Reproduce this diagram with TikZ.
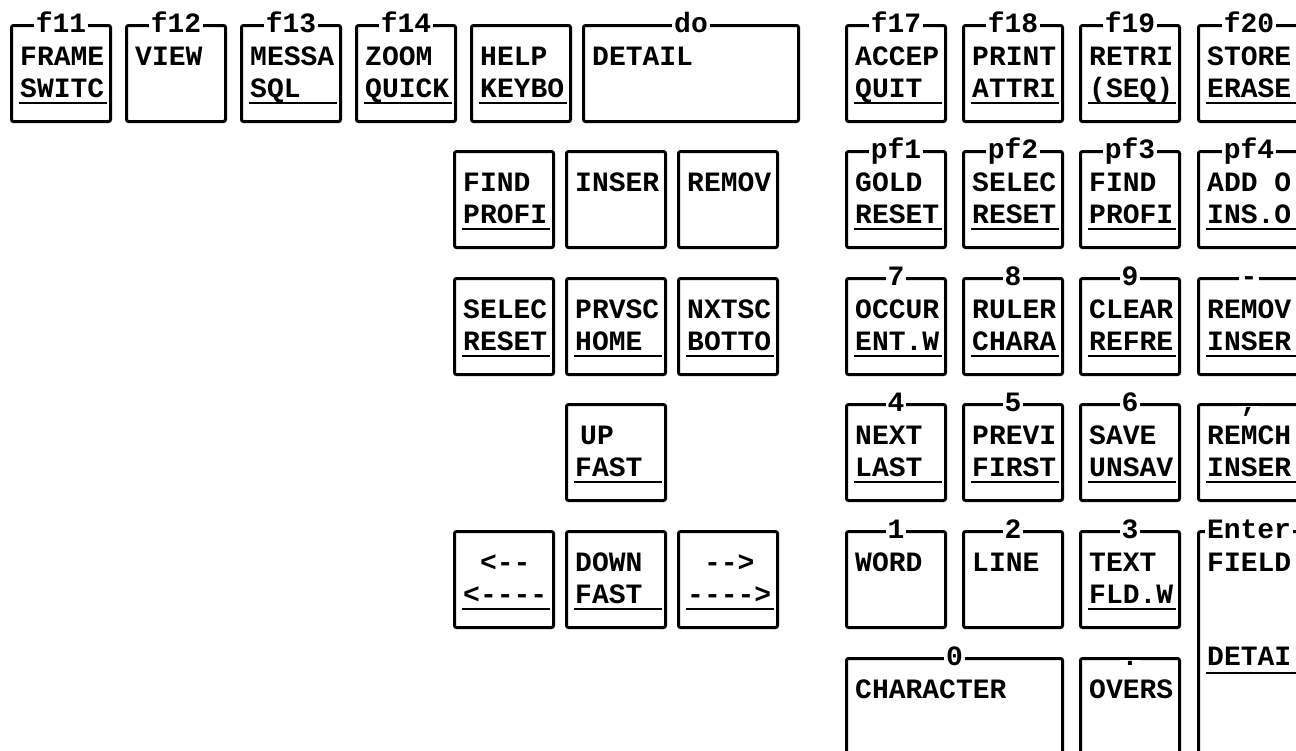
\documentclass[tikz,border=0pt]{standalone}
\usepackage{fontspec}
\newfontfamily\kf{Liberation Mono}
\newcommand\kfont{\kf\bfseries\fontsize{28}{30}\selectfont}
\tikzset{
  keybox/.style={draw, line width=3pt, rounded corners=2pt, inner sep=0pt, anchor=north west},
  keytxt/.style={inner sep=0pt, anchor=base west, font=\kfont},
  keylab/.style={fill=white, inner xsep=2pt, inner ysep=1pt, anchor=base, font=\kfont},
  uline/.style={line width=2.5pt},
}
\newcommand\kbbox[5]{\node[keybox, minimum width=#4pt, minimum height=#5pt] (#1) at (#2,#3) {};}
\newcommand\kblab[2]{\node[keylab] (#1-l) at ([yshift=-8pt]#1.north) {#2};}
\newcommand\kbone[2]{\node[keytxt] (#1-a) at ([xshift=10pt,yshift=-41pt]#1.north west) {#2};}
\newcommand\kbsec[2]{\node[keytxt] (#1-b) at ([xshift=10pt,yshift=-73pt]#1.north west) {#2};
  \draw[uline] ([xshift=9pt,yshift=-79pt]#1.north west) coordinate (#1-u1) -- ([xshift=-5pt,yshift=-79pt]#1.north east) coordinate (#1-u2);}
\newcommand\kbtwo[3]{\kbone{#1}{#2}\kbsec{#1}{#3}}
\newcommand\hy{\mbox{-}}
\begin{document}
\begin{tikzpicture}[x=1pt,y=-1pt]
\useasboundingbox (0,0) rectangle (1296,750);
\fill[white] (0,0) rectangle (1296,750);
\begin{scope}
\clip (0,0) rectangle (1296,750);
% ---- top row
\kbbox{f11}{10}{24}{99}{96}\kbtwo{f11}{FRAME}{SWITC}\kblab{f11}{f11}
\kbbox{f12}{125}{24}{99}{96}\kbone{f12}{VIEW}\kblab{f12}{f12}
\kbbox{f13}{240}{24}{99}{96}\kbtwo{f13}{MESSA}{SQL}\kblab{f13}{f13}
\kbbox{f14}{355}{24}{99}{96}\kbtwo{f14}{ZOOM}{QUICK}\kblab{f14}{f14}
\kbbox{help}{470}{24}{99}{96}\kbtwo{help}{HELP}{KEYBO}
\kbbox{kdo}{582}{24}{215}{96}\kbone{kdo}{DETAIL}\kblab{kdo}{do}
\kbbox{f17}{845}{24}{99}{96}\kbtwo{f17}{ACCEP}{QUIT}\kblab{f17}{f17}
\kbbox{f18}{962}{24}{99}{96}\kbtwo{f18}{PRINT}{ATTRI}\kblab{f18}{f18}
\kbbox{f19}{1079}{24}{99}{96}\kbtwo{f19}{RETRI}{(SEQ)}\kblab{f19}{f19}
\kbbox{f20}{1197}{24}{101}{96}\kbtwo{f20}{STORE}{ERASE}\kblab{f20}{f20}
% ---- row 2
\kbbox{find}{453}{150}{99}{96}\kbtwo{find}{FIND}{PROFI}
\kbbox{inser}{565}{150}{99}{96}\kbone{inser}{INSER}
\kbbox{remov}{677}{150}{99}{96}\kbone{remov}{REMOV}
\kbbox{pf1}{845}{150}{99}{96}\kbtwo{pf1}{GOLD}{RESET}\kblab{pf1}{pf1}
\kbbox{pf2}{962}{150}{99}{96}\kbtwo{pf2}{SELEC}{RESET}\kblab{pf2}{pf2}
\kbbox{pf3}{1079}{150}{99}{96}\kbtwo{pf3}{FIND}{PROFI}\kblab{pf3}{pf3}
\kbbox{pf4}{1197}{150}{101}{96}\kbtwo{pf4}{ADD O}{INS.O}\kblab{pf4}{pf4}
% ---- row 3
\kbbox{selec}{453}{277}{99}{96}\kbtwo{selec}{SELEC}{RESET}
\kbbox{prvsc}{565}{277}{99}{96}\kbtwo{prvsc}{PRVSC}{HOME}
\kbbox{nxtsc}{677}{277}{99}{96}\kbtwo{nxtsc}{NXTSC}{BOTTO}
\kbbox{k7}{845}{277}{99}{96}\kbtwo{k7}{OCCUR}{ENT.W}\kblab{k7}{7}
\kbbox{k8}{962}{277}{99}{96}\kbtwo{k8}{RULER}{CHARA}\kblab{k8}{8}
\kbbox{k9}{1079}{277}{99}{96}\kbtwo{k9}{CLEAR}{REFRE}\kblab{k9}{9}
\kbbox{kminus}{1197}{277}{101}{96}\kbtwo{kminus}{REMOV}{INSER}\kblab{kminus}{\hy}
% ---- row 4
\kbbox{up}{565}{403}{99}{96}
\node[keytxt] (up-a) at ([xshift=15pt,yshift=-41pt]up.north west) {UP};
\kbsec{up}{FAST}
\kbbox{k4}{845}{403}{99}{96}\kbtwo{k4}{NEXT}{LAST}\kblab{k4}{4}
\kbbox{k5}{962}{403}{99}{96}\kbtwo{k5}{PREVI}{FIRST}\kblab{k5}{5}
\kbbox{k6}{1079}{403}{99}{96}\kbtwo{k6}{SAVE}{UNSAV}\kblab{k6}{6}
\kbbox{kcomma}{1197}{403}{101}{96}\kbtwo{kcomma}{REMCH}{INSER}\kblab{kcomma}{,}
% ---- row 5
\kbbox{left}{453}{530}{99}{96}\kbtwo{left}{\hphantom{-}<\hy\hy}{<\hy\hy\hy\hy}
\kbbox{down}{565}{530}{99}{96}\kbtwo{down}{DOWN}{FAST}
\kbbox{right}{677}{530}{99}{96}\kbtwo{right}{\hphantom{-}\hy\hy>}{\hy\hy\hy\hy>}
\kbbox{k1}{845}{530}{99}{96}\kbone{k1}{WORD}\kblab{k1}{1}
\kbbox{k2}{962}{530}{99}{96}\kbone{k2}{LINE}\kblab{k2}{2}
\kbbox{k3}{1079}{530}{99}{96}\kbtwo{k3}{TEXT}{FLD.W}\kblab{k3}{3}
\kbbox{enter}{1197}{530}{101}{250}\kbone{enter}{FIELD}\kblab{enter}{Enter}
\node[keytxt] (enter-b) at ([xshift=10pt,yshift=-135pt]enter.north west) {DETAI};
\draw[uline] ([xshift=9pt,yshift=-143pt]enter.north west) coordinate (enter-u1) -- ([xshift=-5pt,yshift=-143pt]enter.north east) coordinate (enter-u2);
% ---- row 6
\kbbox{k0}{845}{657}{216}{130}\kbone{k0}{CHARACTER}\kblab{k0}{0}
\kbbox{kdot}{1079}{657}{99}{130}\kbone{kdot}{OVERS}\kblab{kdot}{.}
\end{scope}
\end{tikzpicture}
\end{document}
